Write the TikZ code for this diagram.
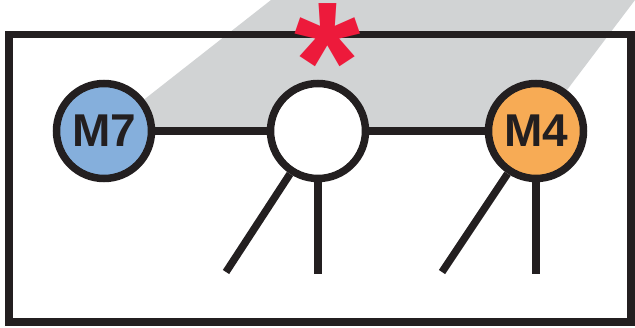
\documentclass[tikz,border=0pt]{standalone}
\usepackage{fontspec}
\setmainfont{Liberation Sans}
\usetikzlibrary{positioning}
\definecolor{linegray}{HTML}{231F20}
\definecolor{shadegray}{HTML}{D1D3D4}
\definecolor{mblue}{HTML}{85AFDC}
\definecolor{morange}{HTML}{F7AB55}
\definecolor{starred}{HTML}{ED1A3B}
\tikzset{
  site/.style = {circle, draw=linegray, line width=7.5pt, minimum size=95pt, inner sep=0pt, font=\fontsize{46}{46}\selectfont\bfseries, text=linegray},
  bond/.style = {draw=linegray, line width=7.5pt},
  frame/.style = {draw=linegray, line width=7.5pt}
}
\begin{document}
\begin{tikzpicture}[x=1pt, y=-1pt]
\useasboundingbox (0,0) rectangle (635,327);
% Positions
\coordinate (pM7) at (104,131);
\coordinate (pmid) at (318,131);
\coordinate (pM4) at (536,131);

% ----- SHADED PLANE -----
\fill[shadegray] (pM7) -- (271,0) -- (635,0) -- (pM4) -- cycle;

% ----- FRAME -----
\draw[frame] (9,34.5) rectangle (631,322);

% Asterisk
\node[text=starred, font=\fontsize{170}{170}\selectfont\bfseries, inner sep=0pt, anchor=base] (star) at (328,120) {\smash{*}};

% ----- SITES -----
\node[site, fill=mblue] (m7) at (pM7) {M7};
\node[site, fill=white] (mid) at (pmid) {};
\node[site, fill=morange] (m4) at (pM4) {M4};

% Leg ends
\coordinate (midA) at (226,272);
\coordinate (midB) at (318,274);
\coordinate (m4A) at (442,272);
\coordinate (m4B) at (536,274);

% ----- BONDS -----
\draw[bond] (m7) -- (mid);
\draw[bond] (mid) -- (m4);
\draw[bond] (mid) -- (midA);
\draw[bond] (mid.south) -- (midB);
\draw[bond] (m4) -- (m4A);
\draw[bond] (m4.south) -- (m4B);

\end{tikzpicture}
\end{document}
